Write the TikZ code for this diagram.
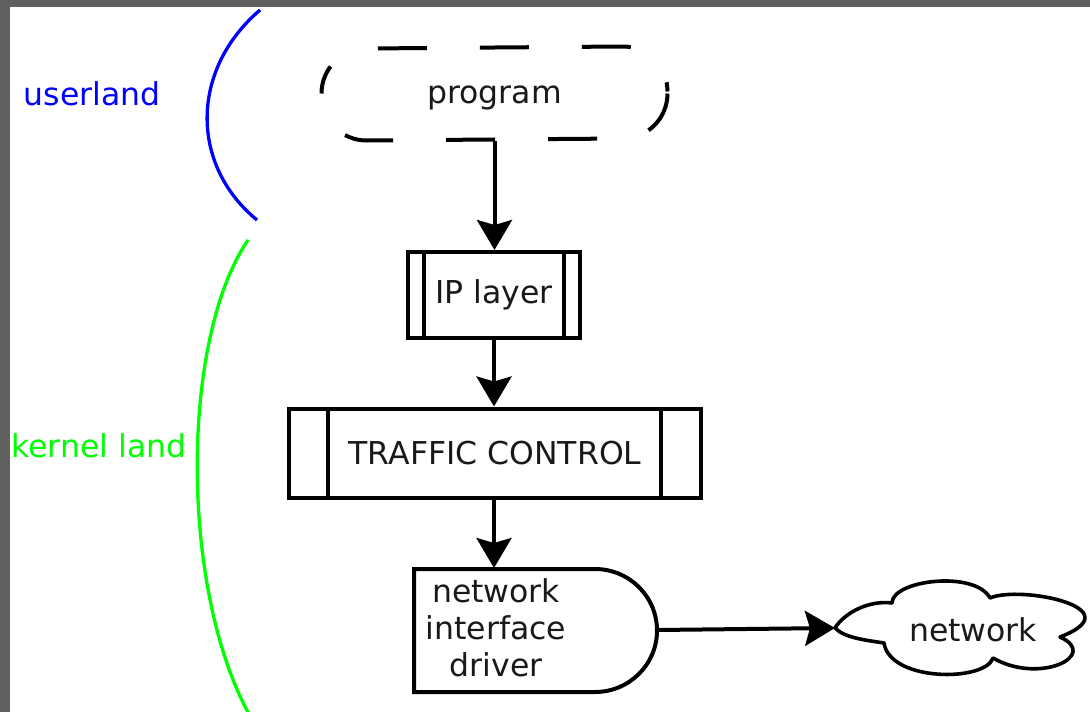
\documentclass[tikz,border=0pt]{standalone}
\usepackage{fontspec}
\setmainfont{DejaVu Sans}
\usetikzlibrary{arrows.meta}
\definecolor{bordergray}{RGB}{96,96,96}
\definecolor{txt}{RGB}{25,25,25}
\begin{document}
\begin{tikzpicture}[x=1pt,y=-1pt,line width=4pt,
  font=\fontsize{31.5}{37}\selectfont, text=txt,
  arr/.style={-{Stealth[length=30pt,width=35pt,inset=5pt]}},
  box/.style={draw,rectangle,inner sep=0pt},
  lbl/.style={inner sep=0pt},
  bracket/.style={line width=3.3pt},
  dashedge/.style={dash pattern=on 49pt off 53pt}]
\useasboundingbox (0,0) rectangle (1090,712);
\fill[white] (0,0) rectangle (1090,712);
\fill[bordergray] (0,0) rectangle (1090,7);
\fill[bordergray] (0,0) rectangle (10,712);

% side labels and brackets
\node[lbl,text=blue] (ul) at (92,94) {userland};
\node[lbl,text=green] (kl) at (99,445.5) {kernel land};
\draw[bracket,blue] (260,10) .. controls (190,70) and (190,165) .. (257,220);
\draw[bracket,green] (248,240) .. controls (180,340) and (180,590) .. (250,716);

% program (dashed rounded box)
\node[minimum width=342pt,minimum height=90pt,inner sep=0pt] (prog) at (494.5,93.5) {};
\node[lbl] (progt) at (494.5,98) {program};
\draw[dashedge,dash phase=20pt] (prog.west) arc[start angle=180,end angle=270,radius=45]
  -- ([xshift=-45pt]prog.north east) arc[start angle=270,end angle=360,radius=45];
\draw[dashedge,dash phase=6pt] (prog.east) arc[start angle=0,end angle=90,radius=45]
  -- ([xshift=45pt]prog.south west) arc[start angle=90,end angle=180,radius=45];

% IP layer
\node[box,minimum width=172pt,minimum height=86pt] (ip) at (494,295) {IP layer};
\draw ([xshift=18pt]ip.north west) -- ([xshift=18pt]ip.south west);
\draw ([xshift=-18pt]ip.north east) -- ([xshift=-18pt]ip.south east);

% traffic control
\node[box,minimum width=412pt,minimum height=89pt] (tc) at (495,453) {TRAFFIC CONTROL};
\draw ([xshift=41pt]tc.north west) -- ([xshift=41pt]tc.south west);
\draw ([xshift=-42pt]tc.north east) -- ([xshift=-42pt]tc.south east);

% network interface driver (delay shape)
\draw (414,569) -- (595,569) arc[start angle=-90,end angle=90,x radius=62,y radius=61.5] -- (414,692) -- cycle;
\node[lbl,align=center] (nid) at (496,628) {network\\interface\\driver};
\coordinate (nidtip) at (657,630);

% cloud
\coordinate (c1) at (835,628);
\coordinate (c2) at (892,603);
\coordinate (c3) at (990,598);
\coordinate (c4) at (1060,637);
\coordinate (c5) at (993,658);
\coordinate (c6) at (884,643);
\draw[line width=3.6pt,line join=round] (c1) .. controls (845,612) and (870,600) .. (c2)
  .. controls (892,580) and (975,570) .. (c3)
  .. controls (1020,585) and (1135,608) .. (c4)
  .. controls (1100,655) and (1040,685) .. (c5)
  .. controls (985,682) and (890,682) .. (c6)
  .. controls (865,640) and (845,638) .. cycle;
\node[lbl] (net) at (973,630) {network};

% arrows
\draw[arr] (prog.south) -- (prog.south |- ip.north);
\draw[arr] (ip.south) -- (ip.south |- tc.north);
\draw[arr] (ip.south |- tc.south) -- (ip.south |- 0,568);
\draw[arr] (nidtip) -- (c1);
\end{tikzpicture}
\end{document}
